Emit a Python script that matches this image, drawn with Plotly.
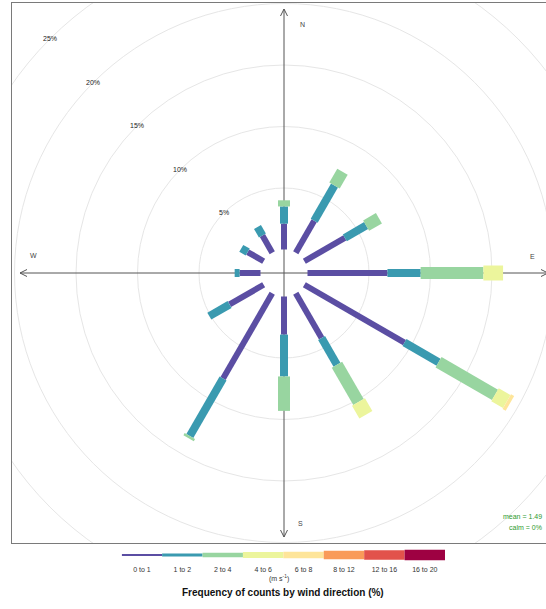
import numpy as np
import plotly.graph_objects as go

# ---------------- data ----------------
directions = [0, 30, 60, 90, 120, 150, 180, 210, 240, 270, 300, 330]
speed_bins = ["0 to 1", "1 to 2", "2 to 4", "4 to 6", "6 to 8", "8 to 12", "12 to 16", "16 to 20"]
freq_0_1 = [2.1, 3.0, 3.8, 6.5, 9.4, 4.2, 3.1, 8.0, 3.2, 1.7, 1.5, 1.6]
freq_1_2 = [1.4, 3.3, 2.0, 2.7, 3.2, 2.5, 3.4, 5.4, 1.9, 0.4, 0.6, 0.8]
freq_2_4 = [0.5, 1.3, 1.2, 5.1, 5.3, 3.5, 2.8, 0.2, 0.0, 0.0, 0.0, 0.0]
freq_4_6 = [0.0, 0.0, 0.0, 1.6, 1.1, 1.2, 0.0, 0.0, 0.0, 0.0, 0.0, 0.0]
freq_6_8 = [0.0, 0.0, 0.0, 0.0, 0.3, 0.0, 0.0, 0.0, 0.0, 0.0, 0.0, 0.0]
freq_8_12 = [0.0] * 12
freq_12_16 = [0.0] * 12
freq_16_20 = [0.0] * 12
grid_levels = [5, 10, 15, 20, 25]
mean_speed = 1.49
calm_pct = 0

# ---------------- style ----------------
colors = ["#5b4ea3", "#3a9ab0", "#98d5a0", "#ecf59c", "#fee59a", "#f99b59", "#e2524b", "#9e0142"]
bar_widths = [6, 8, 12, 15, 17, 19, 21, 23]
key_thickness = [2, 3, 4.7, 6, 6.7, 8.7, 9.3, 10.7]
FONT = "Liberation Sans, Arial"

W, H = 546, 609
PX = 12.3            # pixels per percent
OFFSET = 23.5 / PX   # hole in the middle, in percent units
cx_px, cy_px = 284, 273
left_px, top_px, bottom_px = 12, 3, 543

series = [freq_0_1, freq_1_2, freq_2_4, freq_4_6, freq_6_8, freq_8_12, freq_12_16, freq_16_20]

fig = go.Figure()

# grid circles
for lv in grid_levels:
    r = OFFSET + lv
    fig.add_shape(type="circle", xref="x", yref="y", x0=-r, y0=-r, x1=r, y1=r,
                  line=dict(color="#e6e6e6", width=1), layer="below")

# axes with arrows
L = 264 / PX
fig.add_trace(go.Scatter(x=[-L, L, None, 0, 0], y=[0, 0, None, -L, L], mode="lines",
                         line=dict(color="#555555", width=1), hoverinfo="skip", showlegend=False))
a_len, a_w = 7 / PX, 3.5 / PX
ax_, ay_ = [], []
for (tx, ty, dx, dy) in [(L, 0, 1, 0), (-L, 0, -1, 0), (0, L, 0, 1), (0, -L, 0, -1)]:
    px_, py_ = -dy, dx
    ax_ += [tx - dx * a_len + px_ * a_w, tx, tx - dx * a_len - px_ * a_w, None]
    ay_ += [ty - dy * a_len + py_ * a_w, ty, ty - dy * a_len - py_ * a_w, None]
fig.add_trace(go.Scatter(x=ax_, y=ay_, mode="lines", line=dict(color="#555555", width=1),
                         hoverinfo="skip", showlegend=False))

# bars
theta = np.deg2rad(directions)
cum = np.zeros(len(directions))
for k, vals in enumerate(series):
    vals = np.array(vals, dtype=float)
    xs, ys = [], []
    for i in range(len(directions)):
        if vals[i] > 0:
            r0 = OFFSET + cum[i]
            r1 = r0 + vals[i]
            xs += [r0 * np.sin(theta[i]), r1 * np.sin(theta[i]), None]
            ys += [r0 * np.cos(theta[i]), r1 * np.cos(theta[i]), None]
    cum += vals
    if xs:
        fig.add_trace(go.Scatter(x=xs, y=ys, mode="lines",
                                 line=dict(color=colors[k], width=bar_widths[k]),
                                 hoverinfo="skip", showlegend=False))

# percentage labels on NW diagonal
for lv in grid_levels:
    r = OFFSET + lv
    fig.add_annotation(x=-r * np.sin(np.pi / 4), y=r * np.cos(np.pi / 4), xref="x", yref="y",
                       text=f"{lv}%", showarrow=False,
                       font=dict(size=7, color="#222222", family=FONT))

# direction labels
for lab, xp, yp in [("N", 302, 25), ("E", 532, 256), ("S", 300, 523), ("W", 33, 255)]:
    fig.add_annotation(x=(xp - cx_px) / PX, y=(cy_px - yp) / PX, xref="x", yref="y",
                       text=lab, showarrow=False,
                       font=dict(size=7, color="#444444", family=FONT))

# mean / calm
fig.add_annotation(x=544 / W, y=1 - 522 / H, xref="paper", yref="paper", xanchor="right",
                   text=f"mean = {mean_speed}", showarrow=False,
                   font=dict(size=7, color="#2e9a2e", family=FONT))
fig.add_annotation(x=544 / W, y=1 - 533 / H, xref="paper", yref="paper", xanchor="right",
                   text=f"calm = {calm_pct}%", showarrow=False,
                   font=dict(size=7, color="#2e9a2e", family=FONT))

# colour key as a second subplot
kx = list(range(len(speed_bins)))
fig.add_trace(go.Bar(x=kx, y=key_thickness, base=[-t / 2 for t in key_thickness],
                     width=1.0, marker=dict(color=colors, line=dict(width=0)),
                     xaxis="x2", yaxis="y2", hoverinfo="skip", showlegend=False))

fig.add_annotation(x=279 / W, y=1 - 585 / H, xref="paper", yref="paper",
                   text="(m s<sup>-1</sup>)", showarrow=False,
                   font=dict(size=7, color="#333333", family=FONT))
fig.add_annotation(x=283 / W, y=1 - 600 / H, xref="paper", yref="paper",
                   text="<b>Frequency of counts by wind direction (%)</b>", showarrow=False,
                   font=dict(size=10, color="#111111", family=FONT))

fig.update_layout(
    width=W, height=H, margin=dict(l=0, r=0, t=0, b=0),
    paper_bgcolor="white", plot_bgcolor="white",
    xaxis=dict(domain=[left_px / W, 1.0], range=[-(cx_px - left_px) / PX, (W - cx_px) / PX],
               showgrid=False, zeroline=False, showticklabels=False, ticks="",
               showline=True, mirror=True, linecolor="#7a7a7a", linewidth=1),
    yaxis=dict(domain=[1 - bottom_px / H, 1 - top_px / H],
               range=[-(bottom_px - cy_px) / PX, (cy_px - top_px) / PX],
               showgrid=False, zeroline=False, showticklabels=False, ticks="",
               showline=True, linecolor="#7a7a7a", linewidth=1),
    xaxis2=dict(domain=[121.7 / W, 445 / W], range=[-0.5, len(speed_bins) - 0.5], anchor="y2",
                tickvals=kx, ticktext=speed_bins, showgrid=False, zeroline=False,
                showline=False, ticks="", ticklen=0,
                tickfont=dict(size=7, color="#333333", family=FONT)),
    yaxis2=dict(domain=[1 - 564 / H, 1 - 546 / H], range=[-9, 9], anchor="x2",
                showgrid=False, zeroline=False, showticklabels=False, showline=False),
    showlegend=False,
)

fig.write_html("out.html", config={"displayModeBar": False, "staticPlot": True},
               post_script="document.body.style.margin='0px';document.body.style.overflow='hidden';")
